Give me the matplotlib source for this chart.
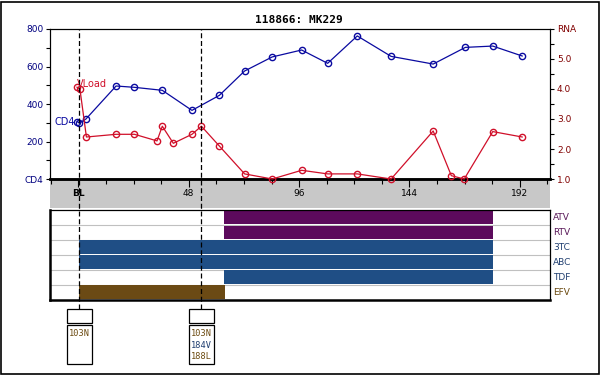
import matplotlib
matplotlib.use("Agg")
import matplotlib.pyplot as plt
from matplotlib.patches import Rectangle
from matplotlib import transforms
from matplotlib.ticker import MultipleLocator, FixedLocator

# ---------------- data ----------------
title = "118866: MK229"
cd4_weeks = [-0.4, 0.4, 3.3, 16.4, 24.3, 36.5, 49.4, 61.3, 72.3, 84.3, 97.1,
             108.4, 121.3, 136.0, 154.3, 168.3, 180.2, 193.0]
cd4_vals = [306, 298, 320, 496, 489, 473, 366, 446, 576, 651, 688,
            617, 763, 654, 613, 702, 709, 656]
rna_weeks = [-0.6, 0.7, 3.5, 16.4, 24.4, 34.2, 36.5, 41.3, 49.4, 53.5, 61.3,
             72.3, 84.3, 97.1, 108.4, 121.3, 136.0, 154.3, 162.2, 167.8, 180.2, 193.0]
rna_vals = [4.06, 3.99, 2.40, 2.49, 2.49, 2.27, 2.76, 2.19, 2.49, 2.76, 2.10,
            1.17, 1.00, 1.29, 1.17, 1.17, 1.00, 2.60, 1.11, 1.00, 2.58, 2.40]

xtick_pos = [0, 48, 96, 144, 192]
xtick_lab = ["BL", "48", "96", "144", "192"]
cd4_ticks = [0, 200, 400, 600, 800]
cd4_labels = ["CD4", "200", "400", "600", "800"]
rna_ticks = [1, 2, 3, 4, 5, 6]
rna_labels = ["1.0", "2.0", "3.0", "4.0", "5.0", "RNA"]

drugs = ["ATV", "RTV", "3TC", "ABC", "TDF", "EFV"]
drug_start = [63.3, 63.3, 0.4, 0.4, 63.3, 0.4]
drug_stop = [180.1, 180.1, 180.1, 180.1, 180.1, 63.8]
drug_class = ["PI", "PI", "NRTI", "NRTI", "NRTI", "NNRTI"]

geno_weeks = [0.4, 53.5]
geno_muts = [["103N"], ["103N", "184V", "188L"]]
geno_class = [["NNRTI"], ["NNRTI", "NRTI", "NNRTI"]]

# ---------------- styles ----------------
bar_col = {"PI": "#5c0a5c", "NRTI": "#1f4e85", "NNRTI": "#6b4a14"}
lab_col = {"PI": "#5a1a5a", "NRTI": "#203f70", "NNRTI": "#6b4a10"}
CD4C = "#0a0aa0"
RNAC = "#d0102a"
W, H = 600, 375
XMIN, XMAX = -12.55, 205.1


def fx(px):
    return px / W


def fy(py):
    return 1 - py / H


fig = plt.figure(figsize=(6, 3.75), dpi=100)
fig.patch.set_facecolor("white")
# figure border
fig.patches.append(Rectangle((0.5 / W, 1.5 / H), 598.5 / W, 372 / H, transform=fig.transFigure,
                             fill=False, ec="black", lw=1.2, zorder=0))

L, R = 49.5, 550
# gray band
axg = fig.add_axes([fx(L), fy(208), fx(R - L), (208 - 179) / H])
axg.set_facecolor("#c8c8c8")
axg.set_xlim(XMIN, XMAX)
axg.set_ylim(0, 1)
axg.axis("off")
axg.add_patch(Rectangle((0, 0), 1, 1, transform=axg.transAxes, color="#c8c8c8", zorder=0))
for p, t in zip(xtick_pos, xtick_lab):
    axg.text(p, 0.5, t, ha="center", va="center", fontsize=6.5,
             fontweight="bold" if t == "BL" else "normal", color="black")

# main axes
ax = fig.add_axes([fx(L), fy(179), fx(R - L), 150 / H])
ax.set_zorder(3)
ax.set_xlim(XMIN, XMAX)
ax.set_ylim(0, 800)
ax.plot(cd4_weeks, cd4_vals, color=CD4C, lw=0.9, marker="o", ms=4.5, mfc="none",
        mec=CD4C, mew=1.0, clip_on=False, zorder=4)
ax.xaxis.set_major_locator(FixedLocator(xtick_pos))
ax.xaxis.set_minor_locator(FixedLocator([-12 + 12 * i for i in range(19)]))
ax.tick_params(axis="x", which="major", length=6, width=0.8, direction="out", labelbottom=False)
ax.tick_params(axis="x", which="minor", length=3.5, width=0.8, direction="out")
ax.set_yticks(cd4_ticks)
ax.set_yticklabels(cd4_labels)
ax.yaxis.set_minor_locator(MultipleLocator(100))
ax.tick_params(axis="y", which="both", length=3, width=0.8, colors="black",
               labelcolor="#000080", labelsize=6.5, pad=1.5)
for s in ["top", "left", "right"]:
    ax.spines[s].set_linewidth(0.8)
ax.spines["bottom"].set_linewidth(1.8)
ax.text(-1.5, 305, "CD4", color=CD4C, fontsize=7, ha="right", va="center")
ax.text(-0.6, 480, "VLoad", color=RNAC, fontsize=7, ha="left", va="bottom")

ax2 = ax.twinx()
ax2.set_ylim(1, 6)
ax2.plot(rna_weeks, rna_vals, color=RNAC, lw=0.9, marker="o", ms=4.5, mfc="none",
         mec=RNAC, mew=1.0, clip_on=False, zorder=4)
ax2.set_yticks(rna_ticks)
ax2.set_yticklabels(rna_labels)
ax2.yaxis.set_minor_locator(MultipleLocator(0.5))
ax2.tick_params(axis="y", which="both", length=3, width=0.8, colors="black",
                labelcolor="#800000", labelsize=6.5, pad=2)
for s in ["top", "left", "right"]:
    ax2.spines[s].set_linewidth(0.8)
ax2.spines["bottom"].set_linewidth(1.8)

fig.text(fx(299), fy(20), title, ha="center", va="center", fontsize=8,
         fontweight="bold", family="DejaVu Sans Mono")

# drug panel
axd = fig.add_axes([fx(L), fy(299.5), fx(R - L), (299.5 - 210) / H])
axd.set_xlim(XMIN, XMAX)
n = len(drugs)
axd.set_ylim(n, 0)
for i in range(1, n):
    axd.axhline(i, color="#c0c0c0", lw=0.8, zorder=1)
for i, (d, s, e, c) in enumerate(zip(drugs, drug_start, drug_stop, drug_class)):
    axd.add_patch(Rectangle((s, i + 0.04), e - s, 0.92, color=bar_col[c], lw=0, zorder=2))
    axd.text(1.006, 1 - (i + 0.5) / n, d, transform=axd.transAxes, ha="left", va="center",
             fontsize=6.5, color=lab_col[c])
axd.set_xticks([])
axd.set_yticks([])
for s in ["top", "right"]:
    axd.spines[s].set_linewidth(0.9)
axd.spines["bottom"].set_linewidth(1.8)
axd.spines["left"].set_linewidth(1.8)

# overlay for dashed lines and genotype boxes
axo = fig.add_axes([fx(L), fy(309.3), fx(R - L), (309.3 - 29) / H])
axo.set_zorder(10)
axo.patch.set_alpha(0)
axo.set_xlim(XMIN, XMAX)
axo.set_ylim(0, 1)
axo.axis("off")
for g in geno_weeks:
    axo.plot([g, g], [0, 1], color="black", lw=0.9, ls=(0, (4, 2.2)), zorder=10)

bt = transforms.blended_transform_factory(ax.transData, fig.transFigure)
pxw = (XMAX - XMIN) / (R - L)
for g, muts, cls in zip(geno_weeks, geno_muts, geno_class):
    x0 = g - 12.0 * pxw
    wd = 24.4 * pxw
    fig.patches.append(Rectangle((x0, fy(322.7)), wd, (322.7 - 309.3) / H, transform=bt,
                                 fill=False, ec="black", lw=0.9))
    fig.patches.append(Rectangle((x0, fy(364.3)), wd, (364.3 - 325) / H, transform=bt,
                                 fill=False, ec="black", lw=0.9))
    for j, (m, c) in enumerate(zip(muts, cls)):
        fig.text(x0 + 1.8 * pxw, fy(333.3 + 11.8 * j), m, transform=bt, ha="left", va="center",
                 fontsize=6.2, family="DejaVu Sans Mono", color=lab_col[c])

fig.savefig("out.png", dpi=100)
